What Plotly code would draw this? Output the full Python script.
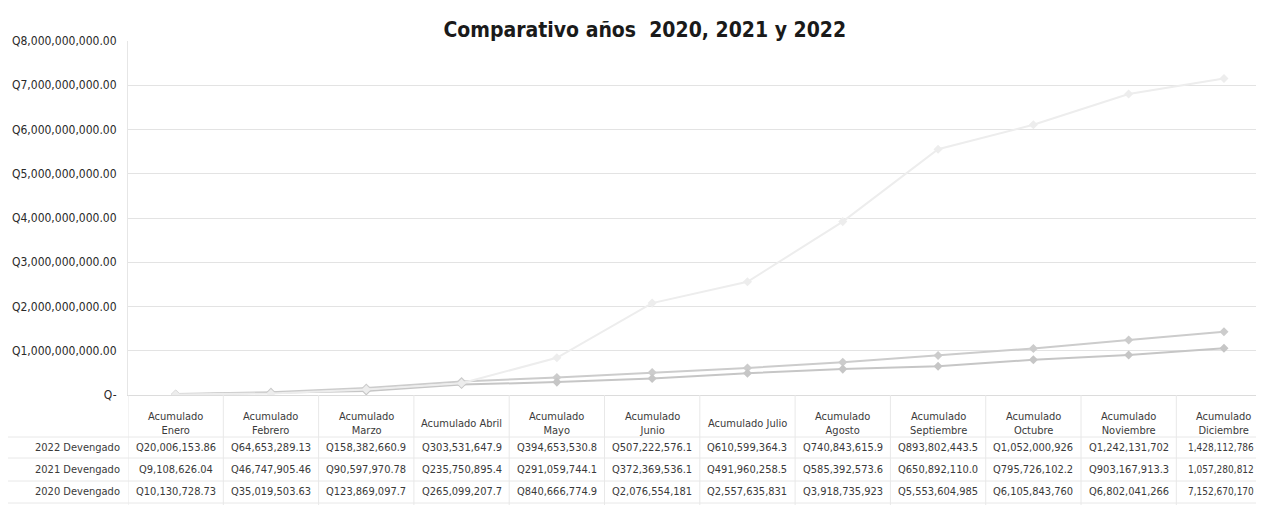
import plotly.graph_objects as go

categories = ["Acumulado<br>Enero", "Acumulado<br>Febrero", "Acumulado<br>Marzo", "Acumulado Abril",
              "Acumulado<br>Mayo", "Acumulado<br>Junio", "Acumulado Julio", "Acumulado<br>Agosto",
              "Acumulado<br>Septiembre", "Acumulado<br>Octubre", "Acumulado<br>Noviembre", "Acumulado<br>Diciembre"]

dev_2022 = [20006153.86, 64653289.13, 158382660.9, 303531647.9, 394653530.8, 507222576.1,
            610599364.3, 740843615.9, 893802443.5, 1052000926, 1242131702, 1428112786]
dev_2021 = [9108626.04, 46747905.46, 90597970.78, 235750895.4, 291059744.1, 372369536.1,
            491960258.5, 585392573.6, 650892110.0, 795726102.2, 903167913.3, 1057280812]
dev_2020 = [10130728.73, 35019503.63, 123869097.7, 265099207.7, 840666774.9, 2076554181,
            2557635831, 3918735923, 5553604985, 6105843760, 6802041266, 7152670170]

series_names = ["2022 Devengado", "2021 Devengado", "2020 Devengado"]
series_values = [dev_2022, dev_2021, dev_2020]
series_colors = ["#cccccc", "#c6c6c6", "#ededed"]

y_tickvals = [0, 1e9, 2e9, 3e9, 4e9, 5e9, 6e9, 7e9, 8e9]
y_ticktext = ["Q-", "Q1,000,000,000.00", "Q2,000,000,000.00", "Q3,000,000,000.00", "Q4,000,000,000.00",
              "Q5,000,000,000.00", "Q6,000,000,000.00", "Q7,000,000,000.00", "Q8,000,000,000.00"]

FONT = "DejaVu Sans Condensed, Liberation Sans Narrow, sans-serif"
TXT = "#3a3a3a"


def fmt_cell(v, maxlen):
    for d in (2, 1, 0):
        s = f"Q{v:,.{d}f}"
        if len(s) <= maxlen:
            return s
    return f"{v:,.0f}"


x_idx = list(range(len(categories)))
fig = go.Figure()
for name, vals, col in zip(series_names, series_values, series_colors):
    fig.add_trace(go.Scatter(x=x_idx, y=vals, name=name, mode="lines+markers",
                             line=dict(color=col, width=2),
                             marker=dict(color=col, size=7, symbol="diamond")))

H = 354.0  # plot height in px


def py(px_from_axis):
    return -px_from_axis / H


annotations = []
for i, c in enumerate(categories):
    annotations.append(dict(x=i, y=py(28), xref="x", yref="paper", text=c, showarrow=False,
                            xanchor="center", yanchor="middle",
                            font=dict(family=FONT, size=11, color=TXT)))
row_offsets = [52, 74, 97]
for name, vals, off in zip(series_names, series_values, row_offsets):
    annotations.append(dict(x=-0.005, y=py(off), xref="paper", yref="paper", text=name, showarrow=False,
                            xanchor="right", yanchor="middle",
                            font=dict(family=FONT, size=11, color=TXT)))
    for i, v in enumerate(vals):
        last = i == len(vals) - 1
        annotations.append(dict(x=i - (0.03 if last else 0), y=py(off), xref="x", yref="paper",
                                text=fmt_cell(v, 13 if last else 14),
                                showarrow=False, xanchor="center", yanchor="middle",
                                font=dict(family=FONT, size=10 if last else 11, color=TXT)))

shapes = []
grid_col = "#e8e8e8"
for i in range(len(categories)):
    shapes.append(dict(type="line", xref="x", yref="paper", x0=i - 0.5, x1=i - 0.5,
                       y0=0, y1=py(110), line=dict(color=grid_col, width=1)))
for off in [42, 63, 86, 108]:
    shapes.append(dict(type="line", xref="paper", yref="paper", x0=-0.11, x1=1,
                       y0=py(off), y1=py(off), line=dict(color=grid_col, width=1)))

fig.update_layout(
    width=1256, height=514,
    margin=dict(l=120, r=0, t=33, b=127),
    paper_bgcolor="white", plot_bgcolor="white",
    showlegend=False,
    title=dict(text="<b>Comparativo años  2020, 2021 y 2022</b>", x=0.507, xanchor="center",
               y=0.957, yanchor="middle", font=dict(family=FONT, size=21, color="#1a1a1a")),
    xaxis=dict(range=[-0.5, 11.42], showticklabels=False, showgrid=False,
               zeroline=False, showline=True, linecolor="#dcdcdc", ticks=""),
    yaxis=dict(range=[0, 8e9], tickvals=y_tickvals, ticktext=y_ticktext, showgrid=True,
               gridcolor="#e3e3e3", zeroline=False, showline=True, linecolor="#e6e6e6",
               ticks="", ticklabelstandoff=8,
               tickfont=dict(family=FONT, size=12, color="#2a2a2a")),
    annotations=annotations, shapes=shapes,
)

fig.write_html("out.html")
